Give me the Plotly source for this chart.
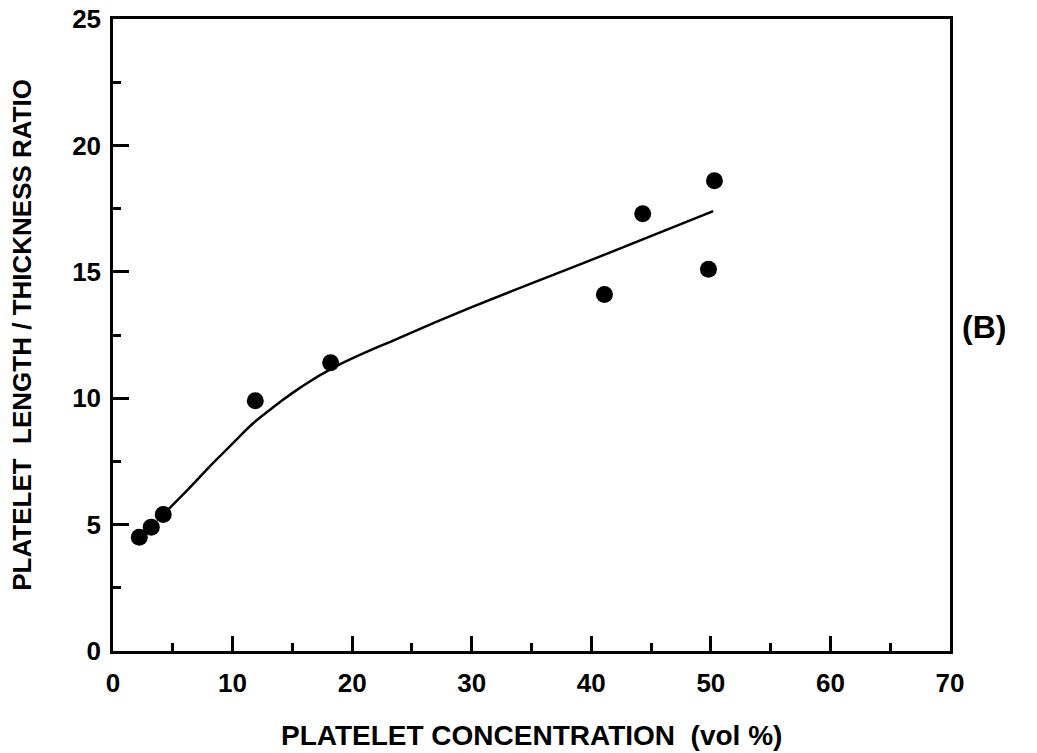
import plotly.graph_objects as go

# Measured platelet aspect ratios
conc_vol_pct = [2.2, 3.2, 4.2, 11.9, 18.2, 41.1, 44.3, 49.8, 50.3]
length_thickness_ratio = [4.5, 4.9, 5.4, 9.9, 11.4, 14.1, 17.3, 15.1, 18.6]

# Smooth trend curve through the data
fit_x = [4.2, 6.3, 8.4, 10.1, 11.7, 13.7, 15.6, 18.4, 24.0, 30.0, 40.7, 50.2]
fit_y = [5.4, 6.4, 7.45, 8.25, 9.0, 9.75, 10.4, 11.2, 12.4, 13.6, 15.6, 17.4]

x_ticks = [0, 10, 20, 30, 40, 50, 60, 70]
y_ticks = [0, 5, 10, 15, 20, 25]

font_family = "Liberation Sans, Arial, sans-serif"

fig = go.Figure()
fig.add_trace(go.Scatter(
    x=fit_x, y=fit_y, mode="lines",
    line=dict(color="black", width=2.5, shape="spline", smoothing=1.2),
    hoverinfo="skip", showlegend=False,
))
fig.add_trace(go.Scatter(
    x=conc_vol_pct, y=length_thickness_ratio, mode="markers",
    marker=dict(color="black", size=17),
    showlegend=False,
))

axis_common = dict(
    showgrid=False, zeroline=False, automargin=False,
    showline=True, linecolor="black", linewidth=2.5, mirror=True,
    ticks="inside", tickcolor="black", tickwidth=2.5,
    ticklabeloverflow="allow",
    tickfont=dict(family=font_family, size=26, color="black"),
)

fig.update_xaxes(
    range=[0, 70], tickvals=x_ticks, ticktext=[f"<b>{v}</b>" for v in x_ticks],
    ticklen=15, ticklabelstandoff=7,
    minor=dict(dtick=5, tick0=0, ticks="inside", ticklen=8, tickwidth=2.5, tickcolor="black"),
    **axis_common,
)
fig.update_yaxes(
    range=[0, 25], tickvals=y_ticks, ticktext=[f"<b>{v}</b>" for v in y_ticks],
    ticklen=16, ticklabelstandoff=4,
    minor=dict(dtick=2.5, tick0=0, ticks="inside", ticklen=8, tickwidth=2.5, tickcolor="black"),
    **axis_common,
)

fig.add_annotation(
    text="<b>PLATELET CONCENTRATION  (vol %)</b>",
    xref="paper", yref="paper", x=0.5, y=-0.134, yanchor="middle",
    showarrow=False, font=dict(family=font_family, size=28, color="black"),
)
fig.add_annotation(
    text="<b>PLATELET  LENGTH / THICKNESS RATIO</b>",
    xref="paper", yref="paper", x=-0.109, y=0.5, xanchor="center", textangle=-90,
    showarrow=False, font=dict(family=font_family, size=26, color="black"),
)
fig.add_annotation(
    text="<b>(B)</b>",
    xref="paper", yref="paper", x=1.069, y=0.512, yanchor="middle",
    showarrow=False, font=dict(family=font_family, size=32, color="black"),
)

fig.update_layout(
    width=1037, height=753,
    margin=dict(l=113, r=87, t=19, b=102),
    paper_bgcolor="white", plot_bgcolor="white",
)

fig.write_html("out.html")
